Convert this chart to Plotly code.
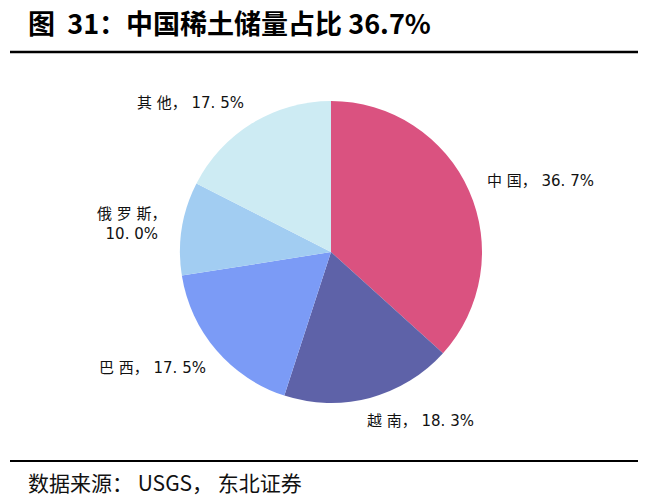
import plotly.graph_objects as go

categories = ["中国", "越南", "巴西", "俄罗斯", "其他"]
values = [36.7, 18.3, 17.5, 10.0, 17.5]
label_texts = ["中 国， 36. 7%", "越 南， 18. 3%", "巴 西， 17. 5%", "俄 罗 斯，<br>10. 0%", "其 他， 17. 5%"]
colors = ["#DA5280", "#5E62A8", "#7B9BF6", "#A2CDF2", "#CDEBF3"]

W, H = 654, 501
cx, cy, r = 331, 252, 151

fig = go.Figure(go.Pie(
    labels=categories, values=values, sort=False, direction="clockwise",
    rotation=0, marker=dict(colors=colors, line=dict(width=0)),
    textinfo="none", hoverinfo="label+percent", showlegend=False,
    domain=dict(x=[(cx - r) / W, (cx + r) / W], y=[1 - (cy + r) / H, 1 - (cy - r) / H]),
))

label_pos = [(540, 181), (420, 421), (152, 368), (132, 224), (190, 103)]
lab_font = dict(family="DejaVu Sans, Noto Sans CJK SC", size=15, color="#111111")
for txt, (x, y) in zip(label_texts, label_pos):
    fig.add_annotation(x=x / W, y=1 - y / H, xref="paper", yref="paper", text=txt,
                       xanchor="center", yanchor="middle",
                       showarrow=False, font=lab_font, align="center")

fig.add_annotation(x=26 / W, y=1 - 22 / H, xref="paper", yref="paper", xanchor="left",
                   yanchor="middle",
                   text="<b>图  31：中国稀土储量占比 36.7%</b>", showarrow=False,
                   font=dict(family="Noto Sans CJK SC", size=27, color="#000000"))
fig.add_annotation(x=26 / W, y=1 - 482 / H, xref="paper", yref="paper", xanchor="left",
                   yanchor="middle",
                   text="数据来源： USGS， 东北证券", showarrow=False,
                   font=dict(family="Noto Sans CJK SC", size=21, color="#111111"))

fig.add_shape(type="line", xref="paper", yref="paper", x0=10 / W, x1=638 / W,
              y0=1 - 52 / H, y1=1 - 52 / H, line=dict(color="#000000", width=2.5))
fig.add_shape(type="line", xref="paper", yref="paper", x0=10 / W, x1=638 / W,
              y0=1 - 461 / H, y1=1 - 461 / H, line=dict(color="#000000", width=2))

fig.update_layout(width=W, height=H, margin=dict(l=0, r=0, t=0, b=0),
                  paper_bgcolor="white", plot_bgcolor="white")
fig.write_html("out.html")
